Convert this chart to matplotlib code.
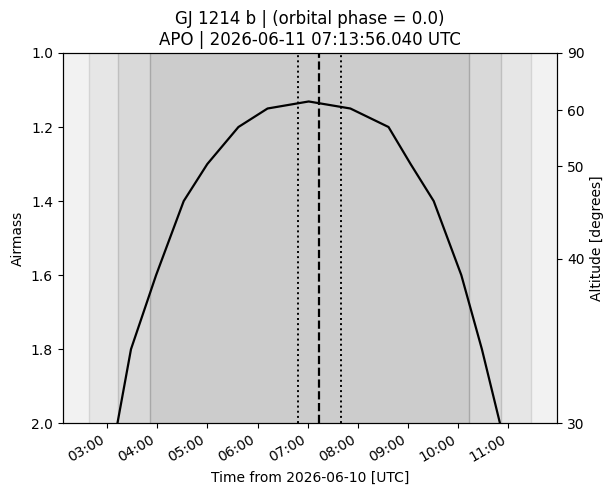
import matplotlib
matplotlib.use("Agg")
import matplotlib.pyplot as plt
import matplotlib.dates as mdates
import numpy as np
from datetime import datetime, timedelta

# curve: hours after 2026-06-10 00:00 UTC, airmass
curve_hours = [3.21, 3.48, 3.98, 4.53, 5.0, 5.62, 6.2, 7.02, 7.85, 8.61, 9.05, 9.51, 10.06, 10.47, 10.83]
curve_airmass = [2.0, 1.8, 1.6, 1.4, 1.3, 1.2, 1.15, 1.131, 1.15, 1.2, 1.3, 1.4, 1.6, 1.8, 2.0]

# twilight band edges (hours) and shades, outer to inner
band_edges = [(2.64, 11.44), (3.22, 10.86), (3.86, 10.22)]
band_colors = ['#e6e6e6', '#d9d9d9', '#cccccc']
band_lines = ['#d4d4d4', '#bfbfbf', '#a8a8a8']

mid_hour = 7.232  # 07:13:56
window = (6.80, 7.67)

alt_ticks = [90, 60, 50, 40, 30]

base = datetime(2026, 6, 10)
def t(h):
    return base + timedelta(hours=h)

fig = plt.figure(figsize=(6.15, 4.95), dpi=100)
ax = fig.add_axes([0.102, 0.145, 0.804, 0.748])
ax.set_facecolor('#f2f2f2')

for (a, b), c, lc in zip(band_edges, band_colors, band_lines):
    ax.axvspan(t(a), t(b), color=c, lw=0, zorder=0)
    ax.axvline(t(a), color=lc, lw=1, zorder=0.5)
    ax.axvline(t(b), color=lc, lw=1, zorder=0.5)

ax.plot([t(h) for h in curve_hours], curve_airmass, color='k', lw=1.6, zorder=3)
ax.axvline(t(mid_hour), color='k', ls='--', lw=1.6, zorder=2)
for w in window:
    ax.axvline(t(w), color='k', ls=':', lw=1.4, zorder=2)

ax.set_xlim(t(2.12), t(11.97))
ax.set_ylim(2.0, 1.0)
ax.set_yticks([1.0, 1.2, 1.4, 1.6, 1.8, 2.0])
ax.set_ylabel('Airmass')
ax.set_xlabel('Time from 2026-06-10 [UTC]')
ax.xaxis.set_major_locator(mdates.HourLocator())
ax.xaxis.set_major_formatter(mdates.DateFormatter('%H:%M'))
for lab in ax.get_xticklabels():
    lab.set_rotation(30)
    lab.set_ha('right')

ax2 = ax.twinx()
ax2.set_ylim(2.0, 1.0)
ax2.set_yticks([1.0 / np.sin(np.radians(a)) for a in alt_ticks])
ax2.set_yticklabels([str(a) for a in alt_ticks])
ax2.set_ylabel('Altitude [degrees]')

ax.set_title('GJ 1214 b | (orbital phase = 0.0)\nAPO | 2026-06-11 07:13:56.040 UTC')

fig.savefig('out.png', dpi=100)
